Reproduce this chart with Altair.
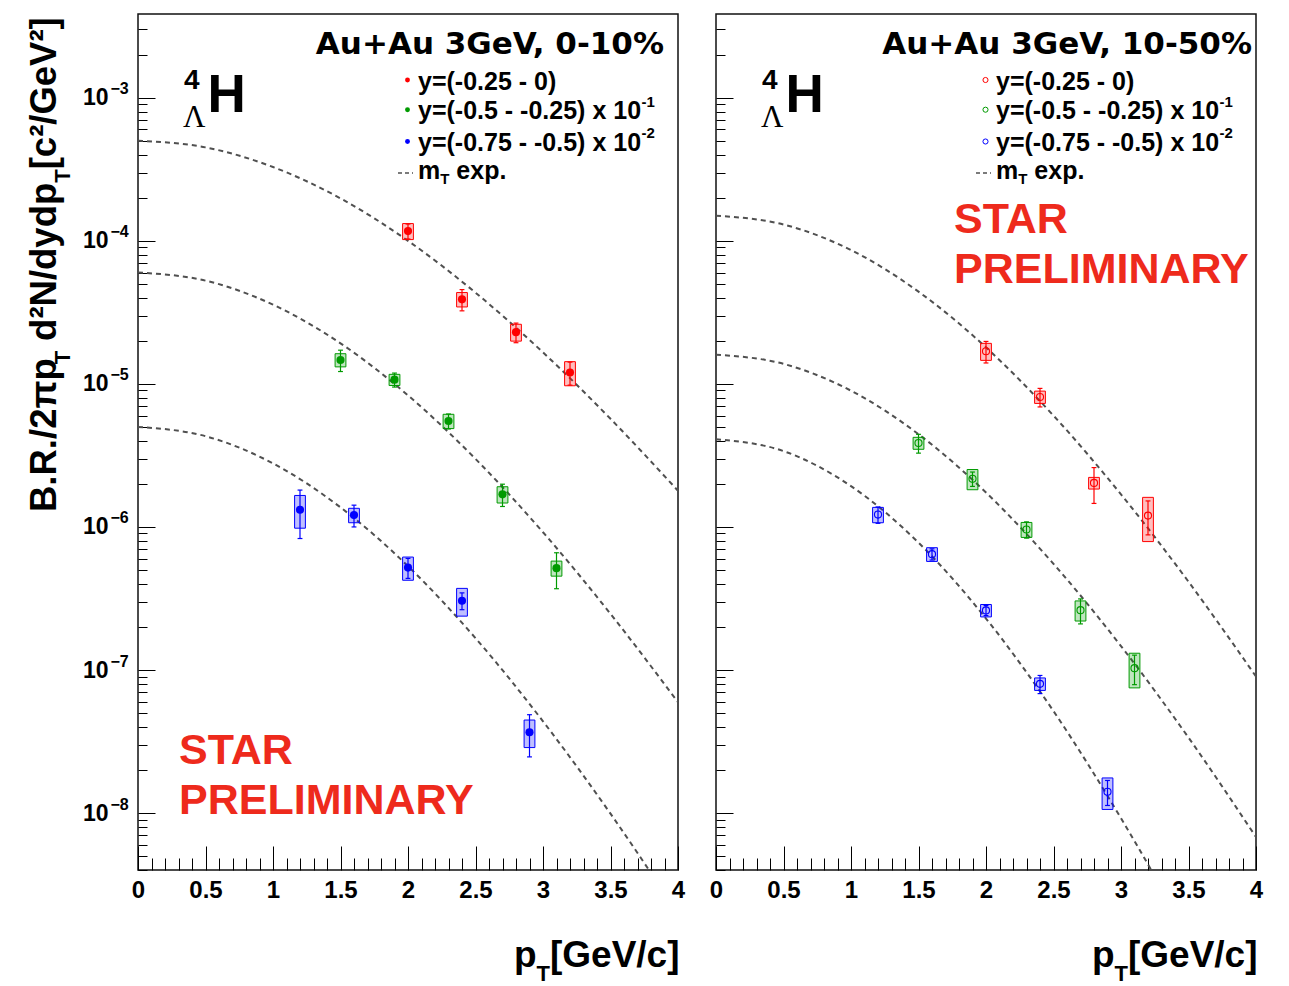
import altair as alt
import pandas as pd

# ---------------- values ----------------
SERIES = ["y=(-0.25 - 0)", "y=(-0.5 - -0.25) x 10^-1", "y=(-0.75 - -0.5) x 10^-2"]
LEGEND_MAIN = ["y=(-0.25 - 0)", "y=(-0.5 - -0.25) x 10", "y=(-0.75 - -0.5) x 10"]
LEGEND_EXP = ["", "-1", "-2"]
COLORS = ["#ff0000", "#009a00", "#0000ff"]

# Au+Au 3 GeV, 0-10 %  (filled markers)
c010_red_pt = [2.0, 2.4, 2.8, 3.2]
c010_red_y = [1.17e-4, 3.9e-5, 2.3e-5, 1.2e-5]
c010_red_stat = [1.4e-5, 6.6e-6, 3.6e-6, 2.2e-6]
c010_red_sys = [1.5e-5, 4.5e-6, 3.1e-6, 2.3e-6]

c010_green_pt = [1.5, 1.9, 2.3, 2.7, 3.1]
c010_green_y = [1.47e-5, 1.07e-5, 5.5e-6, 1.69e-6, 5.15e-7]
c010_green_stat = [2.5e-6, 1.2e-6, 6.6e-7, 3.0e-7, 1.45e-7]
c010_green_sys = [1.55e-6, 9.6e-7, 6.3e-7, 2.2e-7, 6.2e-8]

c010_blue_pt = [1.2, 1.6, 2.0, 2.4, 2.9]
c010_blue_y = [1.32e-6, 1.21e-6, 5.2e-7, 3.05e-7, 3.67e-8]
c010_blue_stat = [4.9e-7, 2.1e-7, 8.3e-8, 4.1e-8, 1.2e-8]
c010_blue_sys = [3.4e-7, 1.4e-7, 9.6e-8, 6.7e-8, 8.0e-9]

# Au+Au 3 GeV, 10-50 %  (open markers)
c1050_red_pt = [2.0, 2.4, 2.8, 3.2]
c1050_red_y = [1.69e-5, 8.1e-6, 2.03e-6, 1.2e-6]
c1050_red_stat = [2.9e-6, 1.2e-6, 5.7e-7, 3.2e-7]
c1050_red_sys = [2.3e-6, 8.0e-7, 1.9e-7, 4.1e-7]

c1050_green_pt = [1.5, 1.9, 2.3, 2.7, 3.1]
c1050_green_y = [3.86e-6, 2.17e-6, 9.6e-7, 2.62e-7, 1.03e-7]
c1050_green_stat = [5.8e-7, 2.5e-7, 1.25e-7, 5.2e-8, 2.4e-8]
c1050_green_sys = [3.7e-7, 3.5e-7, 1.15e-7, 4.2e-8, 2.8e-8]

c1050_blue_pt = [1.2, 1.6, 2.0, 2.4, 2.9]
c1050_blue_y = [1.22e-6, 6.45e-7, 2.61e-7, 8.0e-8, 1.41e-8]
c1050_blue_stat = [1.6e-7, 5.8e-8, 2.1e-8, 1.16e-8, 2.8e-9]
c1050_blue_sys = [1.5e-7, 7.1e-8, 2.6e-8, 8.0e-9, 3.5e-9]

# dashed m_T-exponential curves, read at these pT values
curve_pt = [0.0, 0.5, 1.0, 1.5, 2.0, 2.5, 3.0, 3.5, 4.0]
c010_red_curve = [5.0e-4, 4.5e-4, 3.28e-4, 1.98e-4, 1.0e-4, 4.34e-5, 1.66e-5, 5.7e-6, 1.79e-6]
c010_green_curve = [6.0e-5, 5.27e-5, 3.58e-5, 1.92e-5, 8.31e-6, 2.99e-6, 9.18e-7, 2.47e-7, 5.96e-8]
c010_blue_curve = [5.0e-6, 4.31e-6, 2.78e-6, 1.37e-6, 5.32e-7, 1.67e-7, 4.38e-8, 9.9e-9, 1.98e-9]
c1050_red_curve = [1.5e-4, 1.3e-4, 8.62e-5, 4.41e-5, 1.8e-5, 6.0e-6, 1.69e-6, 4.14e-7, 9.0e-8]
c1050_green_curve = [1.6e-5, 1.38e-5, 8.96e-6, 4.45e-6, 1.74e-6, 5.52e-7, 1.47e-7, 3.37e-8, 6.8e-9]
c1050_blue_curve = [4.1e-6, 3.39e-6, 1.93e-6, 7.77e-7, 2.29e-7, 5.16e-8, 9.2e-9, 1.36e-9, 1.7e-10]

# axes
X_MAJOR = [0, 0.5, 1, 1.5, 2, 2.5, 3, 3.5, 4]
X_MINOR = [i / 10 for i in range(41) if i % 5 != 0]
Y_MIN, Y_MAX = 4.0e-9, 3.85e-3
Y_MAJOR = [1e-8, 1e-7, 1e-6, 1e-5, 1e-4, 1e-3]
Y_EXP_LABELS = ["−8", "−7", "−6", "−5", "−4", "−3"]
Y_MINOR = [k * 10.0 ** e for e in range(-9, -2) for k in range(2, 10)
           if Y_MIN <= k * 10.0 ** e <= Y_MAX]

PANEL_TITLES = ["Au+Au 3GeV, 0-10%", "Au+Au 3GeV, 10-50%"]

# ---------------- layout / style ----------------
W, H = 540, 856
SANS = "Liberation Sans, Arial, Helvetica, sans-serif"
WIDE = "DejaVu Sans, Verdana, sans-serif"
SERIF = "Liberation Serif, Times New Roman, serif"
STAR_RED = "#ee2a1c"
CURVE_GREY = "#505050"

# Arial/Liberation Sans Bold advance widths (1/1000 em), used to place sub/superscripts
AB = {'B': 722, '.': 278, 'R': 722, '/': 278, '2': 556, 'π': 600, 'p': 611, 'T': 611,
      ' ': 278, 'd': 611, '²': 333, 'N': 722, 'y': 556, '[': 333, 'c': 556, 'G': 778,
      'e': 556, 'V': 667, ']': 333, 'm': 889, '=': 584, '(': 333, ')': 333, '-': 333,
      '0': 556, '1': 556, '5': 556, '7': 556, 'x': 556}


def wid(s, table, size):
    return sum(table[c] for c in s) * size / 1000.0


def points_df(groups):
    rows = []
    for name, pts, ys, st, sy in groups:
        for p, y, s1, s2 in zip(pts, ys, st, sy):
            rows.append(dict(series=name, pt=p, y=y,
                             x_lo=p - 0.04, x_hi=p + 0.04,
                             c_lo=p - 0.018, c_hi=p + 0.018,
                             sys_lo=y - s2, sys_hi=y + s2,
                             st_lo=y - s1, st_hi=y + s1))
    return pd.DataFrame(rows)


def curves_df(groups):
    rows = []
    for name, vals in groups:
        for p, v in zip(curve_pt, vals):
            rows.append(dict(series=name, pt=p, val=v))
    return pd.DataFrame(rows)


left_pts = points_df([
    (SERIES[0], c010_red_pt, c010_red_y, c010_red_stat, c010_red_sys),
    (SERIES[1], c010_green_pt, c010_green_y, c010_green_stat, c010_green_sys),
    (SERIES[2], c010_blue_pt, c010_blue_y, c010_blue_stat, c010_blue_sys)])
right_pts = points_df([
    (SERIES[0], c1050_red_pt, c1050_red_y, c1050_red_stat, c1050_red_sys),
    (SERIES[1], c1050_green_pt, c1050_green_y, c1050_green_stat, c1050_green_sys),
    (SERIES[2], c1050_blue_pt, c1050_blue_y, c1050_blue_stat, c1050_blue_sys)])
left_curves = curves_df([(SERIES[0], c010_red_curve), (SERIES[1], c010_green_curve),
                         (SERIES[2], c010_blue_curve)])
right_curves = curves_df([(SERIES[0], c1050_red_curve), (SERIES[1], c1050_green_curve),
                          (SERIES[2], c1050_blue_curve)])

XS = alt.Scale(domain=[0, 4], nice=False, zero=False)
YS = alt.Scale(type="log", domain=[Y_MIN, Y_MAX], nice=False)
CS = alt.Scale(domain=SERIES, range=COLORS)

exp_expr = ""
for v, lab in zip(Y_MAJOR[:-1], Y_EXP_LABELS[:-1]):
    exp_expr += f"datum.value < {v * 3:g} ? '{lab}' : "
exp_expr += f"'{Y_EXP_LABELS[-1]}'"


def ax_ticks(orient, offset, values, size):
    return alt.Axis(orient=orient, offset=offset, values=values, labels=False, ticks=True,
                    tickSize=size, tickColor="black", tickWidth=1, domain=False,
                    grid=False, title=None)


AX_XLAB = alt.Axis(orient="bottom", values=X_MAJOR, format=".1~f", ticks=False, tickSize=0,
                   domain=False, grid=False, labelFont=SANS, labelFontSize=24,
                   labelFontWeight="bold", labelColor="black", labelPadding=8,
                   labelFlush=False, labelOverlap=False, title=None)
AX_Y10 = alt.Axis(orient="left", values=Y_MAJOR, labelExpr="'10'", ticks=False, tickSize=0,
                  domain=False, grid=False, labelFont=SANS, labelFontSize=23,
                  labelFontWeight="bold", labelColor="black", labelPadding=30,
                  labelAlign="right", labelBaseline="middle", labelOverlap=False,
                  labelFlush=False, title=None)
AX_YEXP = alt.Axis(orient="left", values=Y_MAJOR, labelExpr=exp_expr, ticks=False,
                   tickSize=0, domain=False, grid=False, labelFont=SANS, labelFontSize=16,
                   labelFontWeight="bold", labelColor="black", labelPadding=28,
                   labelAlign="left", labelBaseline="middle", labelOffset=-9,
                   labelOverlap=False, labelFlush=False, title=None)

ONE = alt.Data(values=[{"k": 0}])


def txt(text, x, y, size, font=SANS, weight="bold", color="black", align="left", angle=0):
    return alt.Chart(ONE).mark_text(
        text=text, align=align, baseline="alphabetic", fontSize=size, font=font,
        fontWeight=weight, color=color, angle=angle).encode(
        x=alt.value(x), y=alt.value(y))


def panel(pts, curves, filled, title, title_right, star_xy, with_labels):
    color = alt.Color("series:N", scale=CS, legend=None)
    curve = alt.Chart(curves).mark_line(
        strokeDash=[5, 4], strokeWidth=2, color=CURVE_GREY, interpolate="monotone",
        clip=True).encode(
        x=alt.X("pt:Q", scale=XS, axis=AX_XLAB),
        y=alt.Y("val:Q", scale=YS, axis=AX_Y10 if with_labels else None),
        detail="series:N")
    boxes = alt.Chart(pts).mark_rect(fillOpacity=0.25, strokeWidth=1, clip=True).encode(
        x=alt.X("x_lo:Q", scale=XS, axis=ax_ticks("top", -H, X_MAJOR, 24)),
        x2="x_hi:Q",
        y=alt.Y("sys_lo:Q", scale=YS, axis=AX_YEXP if with_labels else None),
        y2="sys_hi:Q",
        fill=alt.Fill("series:N", scale=CS, legend=None),
        stroke=alt.Stroke("series:N", scale=CS, legend=None))
    bars = alt.Chart(pts).mark_rule(strokeWidth=1.2).encode(
        x=alt.X("pt:Q", scale=XS, axis=ax_ticks("top", -H, X_MINOR, 12)),
        y=alt.Y("st_lo:Q", scale=YS, axis=ax_ticks("right", -W, Y_MAJOR, 17)),
        y2="st_hi:Q", color=color)
    cap_hi = alt.Chart(pts).mark_rule(strokeWidth=1.2).encode(
        x=alt.X("c_lo:Q", scale=XS, axis=None), x2="c_hi:Q",
        y=alt.Y("st_hi:Q", scale=YS, axis=ax_ticks("right", -W, Y_MINOR, 9)),
        color=color)
    cap_lo = alt.Chart(pts).mark_rule(strokeWidth=1.2).encode(
        x=alt.X("c_lo:Q", scale=XS, axis=None), x2="c_hi:Q",
        y=alt.Y("st_lo:Q", scale=YS, axis=None), color=color)
    if filled:
        marks = alt.Chart(pts).mark_circle(size=66, opacity=1)
    else:
        marks = alt.Chart(pts).mark_point(shape="circle", filled=False, size=50,
                                          strokeWidth=1.1, opacity=1)
    marks = marks.encode(x=alt.X("pt:Q", scale=XS, axis=None),
                         y=alt.Y("y:Q", scale=YS, axis=None), color=color)

    layers = [curve, boxes, bars, cap_hi, cap_lo, marks]

    # panel title and legend
    layers.append(txt(title, title_right, 40, 31, font=WIDE, align="right"))
    dot_y = [66, 95.7, 127.5]
    base_y = [75.7, 105, 136.7]
    for main, ex, c, dy, by in zip(LEGEND_MAIN, LEGEND_EXP, COLORS, dot_y, base_y):
        if filled:
            m = alt.Chart(ONE).mark_circle(size=24, opacity=1, color=c)
        else:
            m = alt.Chart(ONE).mark_point(shape="circle", filled=False, size=26,
                                          strokeWidth=1, color=c, opacity=1)
        layers.append(m.encode(x=alt.value(269.5), y=alt.value(dy)))
        layers.append(txt(main, 280, by, 25))
        if ex:
            layers.append(txt(ex, 280 + wid(main, AB, 25) + 0.5, by - 12.5, 15))
    layers.append(alt.Chart(ONE).mark_rule(strokeDash=[4, 3], strokeWidth=1.5,
                                           color=CURVE_GREY).encode(
        x=alt.value(260), x2=alt.value(275), y=alt.value(159)))
    mx = 280
    layers.append(txt("m", mx, 165, 25))
    mx += wid("m", AB, 25)
    layers.append(txt("T", mx, 170, 15))
    mx += wid("T", AB, 15) + wid(" ", AB, 25)
    layers.append(txt("exp.", mx, 165, 25))

    # hypertriton-4 symbol
    layers.append(txt("4", 46, 75, 28))
    layers.append(txt("H", 69.5, 98.3, 53))
    layers.append(txt("Λ", 45, 113.3, 31, font=SERIF, weight="normal"))

    # STAR PRELIMINARY
    sx, sy = star_xy
    layers.append(txt("STAR", sx, sy, 43, color=STAR_RED))
    layers.append(txt("PRELIMINARY", sx, sy + 50, 43, color=STAR_RED))

    # x-axis title  p_T[GeV/c]  (right aligned)
    xr = 541.5
    layers.append(txt("[GeV/c]", xr, 953, 37, align="right"))
    xr -= wid("[GeV/c]", AB, 37)
    layers.append(txt("T", xr, 967, 22, align="right"))
    xr -= wid("T", AB, 22)
    layers.append(txt("p", xr, 953, 37, align="right"))

    if with_labels:
        # y-axis title  B.R./2πp_T  d²N/dydp_T[c²/GeV²]  (rotated, reads upward)
        bx, by = -82, 498
        segs = [("B.R./2πp", 36.5, 0, 0.0), ("T", 22, 14, 10.0), ("d²N/dydp", 36.5, 0, 0.0),
                ("T", 22, 14, 0.0), ("[c²/GeV²]", 36.5, 0, 0.0)]
        for s, fs, off, gap in segs:
            layers.append(txt(s, bx + off, by, fs, angle=270))
            by -= wid(s, AB, fs) + gap

    return alt.layer(*layers).resolve_axis(x="independent", y="independent").properties(
        width=W, height=H,
        view=alt.ViewBackground(stroke="#111111", strokeWidth=1.5, fill="white"))


left = panel(left_pts, left_curves, True, PANEL_TITLES[0], 526, (41, 750), True)
right = panel(right_pts, right_curves, False, PANEL_TITLES[1], 536, (238, 219), False)

chart = alt.hconcat(left, right, spacing=38, bounds="flush").properties(
    padding={"left": 26, "top": 13, "right": 10, "bottom": 0}
).configure_view(stroke="#111111", strokeWidth=1.5).configure(background="white")

chart.save("out.html", embed_options={"renderer": "svg", "actions": False})
